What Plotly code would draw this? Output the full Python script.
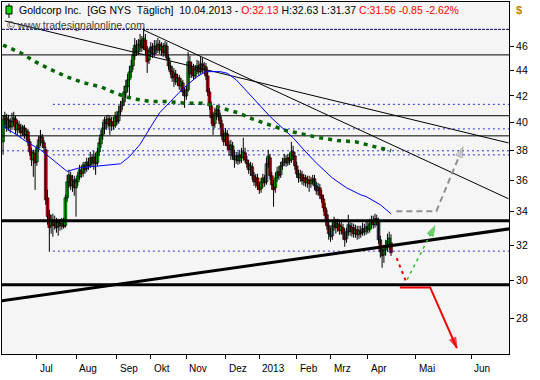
import plotly.graph_objects as go

# ---------------- data ----------------
open_ = [38.63, 40.21, 40.36, 39.62, 40.14, 39.70, 40.06, 40.28, 39.48, 39.84,
         39.62, 39.34, 39.62, 39.12, 39.34, 38.63, 37.93, 37.38, 37.79, 37.24,
         38.21, 38.70, 38.98, 38.56, 38.07, 34.88, 33.82, 33.15, 33.51, 33.21,
         33.39, 33.09, 33.33, 33.15, 33.27, 33.15, 34.88, 35.85, 36.31, 35.65,
         36.04, 35.52, 35.91, 36.24, 36.64, 36.51, 36.97, 36.77, 37.17, 37.04,
         37.52, 37.17, 37.58, 37.17, 37.93, 38.49, 39.12, 39.55, 40.21, 39.92,
         40.28, 39.77, 40.06, 39.77, 40.43, 40.14, 40.80, 41.25, 41.55, 42.24,
         42.70, 43.25, 43.88, 44.36, 45.18, 46.00, 45.51, 46.08, 46.50, 45.92,
         46.50, 45.67, 44.85, 45.51, 45.92, 45.34, 46.00, 45.67, 46.16, 45.67,
         45.92, 45.51, 46.00, 45.01, 44.36, 43.96, 43.48, 43.72, 43.09, 43.40,
         42.77, 43.01, 42.31, 42.00, 42.47, 44.69, 43.80, 44.20, 43.56, 44.04,
         44.36, 43.88, 44.52, 44.04, 44.28, 43.56, 42.31, 41.25, 40.36, 39.92,
         40.65, 40.95, 40.43, 39.92, 39.12, 38.77, 39.19, 38.35, 38.07, 38.35,
         37.65, 37.38, 37.65, 37.31, 37.72, 37.52, 37.86, 37.38, 37.11, 36.71,
         36.91, 36.31, 35.91, 36.17, 35.65, 35.46, 35.85, 36.11, 35.91, 37.11,
         37.52, 36.31, 35.72, 35.52, 36.17, 36.57, 36.37, 36.97, 37.24, 37.45,
         37.17, 37.52, 37.38, 37.93, 37.65, 36.97, 36.44, 36.17, 36.37, 35.98,
         36.17, 35.85, 36.04, 35.78, 35.98, 36.11, 35.65, 35.33, 35.52, 35.07,
         34.81, 34.25, 33.82, 33.15, 32.73, 32.55, 33.09, 33.33, 33.03, 33.21,
         32.85, 33.03, 32.67, 32.37, 32.79, 33.15, 32.79, 33.03, 32.67, 32.91,
         32.61, 32.85, 32.73, 32.97, 32.79, 33.09, 32.91, 33.21, 33.45, 33.21,
         33.57, 33.39, 32.31, 31.73, 31.44, 31.73, 31.90, 32.19, 32.13]

high_ = [40.51, 40.80, 40.65, 40.58, 40.36, 40.73, 40.80, 40.51, 40.21, 40.14,
         39.92, 39.84, 39.84, 39.62, 39.55, 38.84, 38.21, 38.07, 38.07, 38.42,
         39.05, 39.48, 39.19, 38.77, 38.28, 35.39, 34.13, 33.82, 33.88, 33.76,
         33.63, 33.57, 33.57, 33.63, 33.63, 35.07, 36.37, 36.71, 36.57, 36.37,
         36.31, 36.17, 36.57, 37.04, 36.97, 37.24, 37.24, 37.52, 37.52, 37.93,
         37.79, 38.00, 37.86, 38.21, 38.91, 39.48, 40.06, 40.43, 40.51, 40.58,
         40.51, 40.43, 40.43, 40.80, 40.88, 41.25, 41.62, 41.85, 42.77, 43.25,
         43.72, 44.36, 44.85, 45.83, 46.67, 46.50, 46.59, 47.02, 46.85, 47.53,
         47.02, 46.00, 45.83, 46.33, 46.25, 46.50, 46.50, 46.67, 46.50, 46.33,
         46.25, 46.42, 46.33, 45.34, 44.69, 44.36, 44.20, 44.04, 43.72, 43.64,
         43.40, 43.25, 42.62, 42.77, 45.51, 45.18, 44.69, 44.52, 44.44, 44.85,
         44.77, 45.10, 45.01, 44.69, 44.60, 43.88, 42.62, 41.55, 40.80, 41.10,
         41.25, 41.25, 40.73, 40.21, 39.48, 39.62, 39.48, 38.70, 38.77, 38.63,
         38.07, 37.93, 37.93, 38.07, 38.21, 38.91, 38.21, 37.65, 37.38, 37.24,
         37.17, 36.57, 36.44, 36.44, 35.91, 36.17, 36.44, 36.37, 37.52, 38.07,
         37.79, 36.57, 36.04, 36.51, 36.91, 36.97, 37.24, 37.52, 37.79, 37.72,
         37.79, 37.86, 38.63, 38.35, 37.93, 37.24, 36.71, 36.71, 36.64, 36.44,
         36.37, 36.31, 36.31, 36.24, 36.37, 36.37, 35.91, 35.85, 35.78, 35.39,
         35.07, 34.56, 34.13, 33.51, 33.03, 33.39, 33.70, 33.57, 33.57, 33.51,
         33.39, 33.27, 32.97, 33.03, 33.82, 33.45, 33.33, 33.27, 33.21, 33.15,
         33.15, 33.15, 33.33, 33.27, 33.39, 33.39, 33.57, 33.76, 33.76, 33.88,
         33.82, 33.63, 32.55, 31.96, 32.02, 32.31, 32.67, 32.79, 32.63]

low_ = [37.72, 39.84, 39.34, 39.41, 39.26, 39.48, 39.77, 39.19, 39.05, 39.26,
        38.98, 39.05, 38.84, 38.77, 38.35, 37.65, 36.97, 36.24, 35.39, 36.97,
        37.93, 38.35, 38.21, 37.93, 34.44, 33.21, 31.61, 32.67, 32.49, 32.91,
        32.73, 32.55, 32.85, 32.91, 32.97, 33.03, 34.63, 35.52, 35.39, 35.26,
        35.01, 33.70, 35.65, 36.04, 36.17, 36.24, 36.44, 36.57, 36.71, 36.84,
        36.91, 36.71, 36.37, 36.97, 37.65, 38.21, 38.77, 39.19, 39.48, 39.62,
        39.12, 39.41, 39.48, 39.62, 39.84, 39.92, 40.51, 40.95, 41.25, 41.85,
        42.31, 41.85, 43.40, 44.04, 44.85, 45.18, 45.26, 45.51, 45.51, 45.67,
        45.26, 43.80, 44.52, 45.10, 45.01, 45.10, 45.34, 45.42, 45.34, 45.18,
        45.10, 45.18, 44.85, 44.04, 43.64, 43.09, 42.70, 42.85, 42.77, 42.47,
        42.31, 42.00, 41.10, 41.70, 42.31, 43.40, 43.40, 43.25, 43.33, 43.72,
        43.56, 43.72, 43.80, 43.72, 43.25, 42.00, 40.95, 39.92, 39.12, 39.62,
        40.21, 40.14, 39.62, 38.77, 38.35, 38.35, 38.07, 37.65, 37.38, 37.38,
        36.84, 37.11, 37.04, 37.11, 37.17, 37.31, 37.17, 36.84, 36.44, 36.31,
        36.04, 35.65, 35.52, 35.39, 35.13, 35.20, 35.52, 35.59, 35.72, 36.84,
        36.04, 35.39, 34.32, 35.20, 35.91, 36.04, 36.17, 36.71, 36.97, 36.91,
        36.97, 37.04, 37.17, 37.38, 36.71, 36.17, 35.85, 35.91, 35.72, 35.65,
        35.59, 35.52, 35.26, 35.52, 35.72, 35.39, 35.07, 35.01, 34.81, 34.56,
        34.01, 33.51, 32.91, 32.31, 32.19, 32.31, 32.85, 32.67, 32.79, 32.61,
        32.61, 32.31, 31.90, 32.13, 32.55, 32.55, 32.49, 32.43, 32.43, 32.31,
        32.37, 32.43, 32.55, 32.55, 32.61, 32.67, 32.73, 32.97, 32.97, 33.03,
        33.15, 32.08, 31.27, 30.70, 30.98, 31.38, 31.61, 31.73, 31.37]

close_ = [40.21, 40.51, 39.62, 40.21, 39.70, 40.06, 40.36, 39.48, 39.92, 39.55,
          39.26, 39.70, 39.05, 39.41, 38.63, 37.93, 37.38, 37.86, 37.17, 38.21,
          38.77, 38.98, 38.56, 38.21, 34.75, 33.70, 33.03, 33.51, 33.15, 33.45,
          33.03, 33.33, 33.15, 33.39, 33.09, 34.88, 35.91, 36.37, 35.65, 36.04,
          35.52, 35.91, 36.31, 36.71, 36.44, 37.04, 36.71, 37.24, 36.97, 37.52,
          37.17, 37.58, 37.11, 37.93, 38.56, 39.12, 39.62, 40.21, 39.92, 40.28,
          39.77, 40.06, 39.77, 40.43, 40.06, 40.80, 41.25, 41.55, 42.31, 42.77,
          43.25, 43.88, 44.36, 45.26, 46.08, 45.51, 46.16, 46.50, 45.83, 46.67,
          45.67, 44.69, 45.51, 45.92, 45.34, 46.00, 45.67, 46.16, 45.67, 46.00,
          45.42, 46.08, 45.01, 44.36, 43.88, 43.40, 43.80, 43.09, 43.40, 42.77,
          43.09, 42.31, 42.00, 42.47, 44.69, 43.72, 44.20, 43.56, 44.04, 44.36,
          43.88, 44.52, 44.04, 44.36, 43.56, 42.31, 41.25, 40.36, 39.77, 40.65,
          40.95, 40.43, 39.92, 39.05, 38.63, 39.26, 38.35, 38.07, 38.42, 37.65,
          37.38, 37.65, 37.31, 37.72, 37.52, 37.93, 37.38, 37.11, 36.71, 36.97,
          36.31, 35.91, 36.17, 35.65, 35.39, 35.91, 36.17, 35.85, 37.11, 37.65,
          36.31, 35.72, 35.39, 36.17, 36.57, 36.31, 36.97, 37.24, 37.45, 37.17,
          37.52, 37.31, 37.93, 37.65, 36.97, 36.44, 36.17, 36.44, 35.98, 36.17,
          35.85, 36.04, 35.78, 35.98, 36.11, 35.65, 35.33, 35.52, 35.07, 34.81,
          34.25, 33.76, 33.15, 32.67, 32.49, 33.15, 33.39, 33.03, 33.27, 32.85,
          33.09, 32.67, 32.31, 32.79, 33.21, 32.79, 33.03, 32.67, 32.91, 32.61,
          32.85, 32.67, 32.97, 32.79, 33.09, 32.91, 33.27, 33.45, 33.21, 33.57,
          33.39, 32.31, 31.61, 31.38, 31.73, 31.96, 32.25, 32.41, 31.56]

bar_index = list(range(len(close_)))

# moving averages
ma200_idx = [0, 10, 18, 26, 36, 45, 55, 64, 73, 83, 92, 102, 112, 117, 126, 132,
             140, 150, 159, 168, 178, 188, 198, 218]
ma200_val = [46.08, 45.42, 44.71, 44.12, 43.48, 43.03, 42.70, 42.16, 41.78, 41.57,
             41.57, 41.45, 41.45, 41.32, 40.95, 40.73, 40.28, 39.84, 39.43, 39.19,
             38.91, 38.72, 38.63, 38.00]
ma50_idx = [0, 6, 13, 21, 28, 36, 43, 51, 58, 66, 71, 77, 83, 88, 94, 101, 109,
            114, 122, 126, 131, 137, 144, 150, 156, 163, 169, 176, 185, 193, 201,
            204, 212, 218]
ma50_val = [39.72, 39.26, 38.65, 38.07, 37.38, 36.60, 36.84, 36.93, 37.00, 37.11,
            37.60, 38.45, 39.70, 40.73, 41.57, 42.55, 43.50, 43.90, 43.90, 43.77,
            43.25, 42.31, 41.32, 40.45, 39.72, 38.91, 38.07, 37.17, 36.17, 35.52,
            35.07, 34.96, 34.44, 33.88]

# horizontal levels
level_top_dotted = 47.42
levels_thin = [45.26, 40.51, 39.05]
levels_thick = [33.45, 29.77]
levels_dotted_full = [38.00]
levels_dotted_part = [41.36, 39.55, 37.72, 31.65]
dotted_part_start = 28

# trend lines (bar index, price)
trend_a = ([1, 284], [48.15, 38.55])
trend_b = ([79, 284], [47.36, 34.82])
trend_c = ([-1, 285], [28.90, 32.97])

# projection arrows
arrow_gray = ([221, 243.5, 258.5], [34.04, 34.04, 38.28])
arrow_green = ([227, 242.7], [30.04, 33.15])
dash_red = ([221.2, 226.4], [31.25, 29.94])
arrow_red = ([223, 240, 255], [29.62, 29.62, 26.52])

month_labels = ["Jul", "Aug", "Sep", "Okt", "Nov", "Dez", "2013", "Feb", "Mrz", "Apr", "Mai", "Jun"]
month_idx = [19, 41, 64, 83, 103, 125, 144, 165, 184, 205, 232, 263]
y_ticks = [28, 30, 32, 34, 36, 38, 40, 42, 44, 46]

X_RANGE = [-0.6, 284.3]
FONT = "Liberation Sans, Arial, sans-serif"

fig = go.Figure()


def add_line(x, y, color, width, dash="solid"):
    fig.add_trace(go.Scatter(x=x, y=y, mode="lines",
                             line=dict(color=color, width=width, dash=dash),
                             hoverinfo="skip", showlegend=False))


# levels
add_line(X_RANGE, [level_top_dotted] * 2, "#000060", 1, "3px,1px")
for v in levels_thin:
    add_line(X_RANGE, [v, v], "black", 1)
for v in levels_dotted_full:
    add_line(X_RANGE, [v, v], "#3030d8", 1, "2px,3px")
for v in levels_dotted_part:
    add_line([dotted_part_start, X_RANGE[1]], [v, v], "#3030d8", 1, "2px,3px")

# candles: wicks + bodies
wick_x, wick_y = [], []
for i, lo, hi in zip(bar_index, low_, high_):
    wick_x += [i, i, None]
    wick_y += [lo, hi, None]
fig.add_trace(go.Scatter(x=wick_x, y=wick_y, mode="lines",
                         line=dict(color="black", width=1),
                         hoverinfo="skip", showlegend=False))
body_size = [c - o for o, c in zip(open_, close_)]
body_color = ["#00e000" if c >= o else "#f00000" for o, c in zip(open_, close_)]
fig.add_trace(go.Bar(x=bar_index, y=body_size, base=open_, width=1.6,
                     marker=dict(color=body_color, line=dict(color="black", width=0.6)),
                     hoverinfo="skip", showlegend=False))

for v in levels_thick:
    add_line(X_RANGE, [v, v], "black", 3)

add_line(*trend_a, "black", 1)
add_line(*trend_b, "black", 1)
add_line(*trend_c, "black", 3)

# moving averages
add_line(ma50_idx, ma50_val, "#0000ff", 1)
add_line(ma200_idx, ma200_val, "#006400", 3.5, "4px,5px")


def add_arrow(x, y, color, width, dash, head_color, head_line):
    n = len(x)
    fig.add_trace(go.Scatter(
        x=x, y=y, mode="lines+markers",
        line=dict(color=color, width=width, dash=dash),
        marker=dict(symbol="arrow", angleref="previous",
                    size=[0] * (n - 1) + [11], color=head_color,
                    line=dict(color=head_line, width=1)),
        hoverinfo="skip", showlegend=False, cliponaxis=False))


add_arrow(*arrow_gray, "#909090", 2, "6px,4px", "#d8d8d8", "#909090")
add_arrow(*arrow_green, "#30c030", 1.5, "3px,4px", "#30c030", "#30c030")
add_line(*dash_red, "#f00000", 2, "3px,4px")
add_arrow(*arrow_red, "#f00000", 2, "solid", "#f00000", "#f00000")

# x tick labels (left aligned to their tick)
for lab, idx in zip(month_labels, month_idx):
    fig.add_annotation(x=idx, y=0, xref="x", yref="paper", text=lab,
                       xanchor="left", yanchor="middle", xshift=1, yshift=-14,
                       showarrow=False, font=dict(size=10, color="black", family=FONT))

header = ("Goldcorp Inc.  [GG NYS  Täglich]  10.04.2013 - "
          "<span style='color:#ff0000'>O:32.13</span> H:32.63 L:31.37 "
          "<span style='color:#ff0000'>C:31.56 -0.85 -2.62%</span>")
fig.add_annotation(x=0, y=1, xref="paper", yref="paper", text=header,
                   xanchor="left", yanchor="middle", xshift=15, yshift=-8,
                   showarrow=False, font=dict(size=10.5, color="black", family=FONT))
fig.add_annotation(x=0, y=1, xref="paper", yref="paper",
                   text="© www.tradesignalonline.com",
                   xanchor="left", yanchor="middle", xshift=3, yshift=-23,
                   showarrow=False, font=dict(size=10.5, color="#404040", family=FONT))
fig.add_annotation(x=1, y=1, xref="paper", yref="paper", text="<b>$</b>",
                   xanchor="left", yanchor="middle", xshift=5, yshift=-8,
                   showarrow=False, font=dict(size=11, color="#c08000", family=FONT))

# small candle icon in the header
fig.add_shape(type="line", xref="paper", yref="paper", x0=0.0138, x1=0.0138,
              y0=1 - 1.5 / 352, y1=1 - 16 / 352, line=dict(color="black", width=1))
fig.add_shape(type="rect", xref="paper", yref="paper", x0=0.0079, x1=0.0197,
              y0=1 - 4 / 352, y1=1 - 12 / 352, fillcolor="#00e000",
              line=dict(color="black", width=1))

fig.update_layout(
    width=540, height=380,
    margin=dict(l=2, r=31, t=2, b=26),
    paper_bgcolor="white", plot_bgcolor="#f5f5f5",
    barmode="overlay",
    font=dict(family=FONT, size=10, color="black"),
    xaxis=dict(range=X_RANGE, showgrid=False,
               zeroline=False, tickvals=month_idx, ticktext=[""] * len(month_idx),
               ticks="outside", ticklen=4, tickcolor="black",
               showline=True, linecolor="black", linewidth=1, mirror=True),
    yaxis=dict(type="log", range=[1.4189, 1.6976], side="right", showgrid=False,
               zeroline=False, tickvals=y_ticks, ticktext=[str(t) for t in y_ticks],
               ticks="outside", ticklen=4, tickcolor="black",
               tickfont=dict(size=10.5, family=FONT),
               showline=True, linecolor="black", linewidth=1, mirror=True),
)

fig.write_html("out.html", config={"displayModeBar": False},
               post_script="document.body.style.margin='0';")
